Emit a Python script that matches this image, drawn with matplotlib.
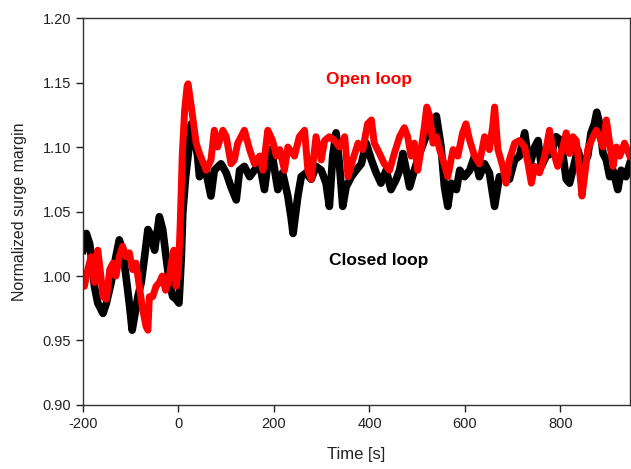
import matplotlib.pyplot as plt

# ---------------------------------------------------------------------------
# Data (time in s, normalized surge margin)
# ---------------------------------------------------------------------------
closed_t = [
    -200, -193, -186, -181, -176, -169, -158, -151, -141, -131, -124, -117,
    -110, -103, -97, -92, -85, -78, -71, -64, -57, -50, -40, -33, -26, -19,
    -12, -5, 1, 6, 9, 15, 20, 27, 33, 40, 44, 51, 58, 68, 75, 89, 100, 110,
    121, 128, 138, 149, 159, 170, 180, 191, 198, 208, 218, 229, 236, 240,
    250, 257, 267, 278, 288, 299, 309, 316, 323, 330, 337, 344, 351, 362,
    372, 383, 393, 404, 414, 424, 435, 445, 456, 463, 470, 477, 484, 494,
    505, 515, 526, 533, 540, 550, 557, 564, 571, 582, 589, 599, 610, 620,
    630, 641, 651, 662, 672, 683, 693, 704, 714, 725, 735, 746, 753, 760,
    770, 781, 791, 801, 812, 819, 829, 836, 847, 857, 864, 871, 876, 882,
    889, 896, 903, 910, 920, 927, 937, 945,
]
closed_y = [
    1.020, 1.033, 1.025, 1.010, 0.992, 0.979, 0.971, 0.979, 0.995, 1.015,
    1.028, 1.020, 1.000, 0.979, 0.958, 0.969, 0.984, 0.995, 1.015, 1.036,
    1.031, 1.020, 1.046, 1.036, 1.015, 0.995, 0.984, 0.982, 0.979, 1.015,
    1.049, 1.077, 1.093, 1.118, 1.108, 1.093, 1.077, 1.082, 1.080, 1.062,
    1.082, 1.087, 1.080, 1.069, 1.059, 1.082, 1.085, 1.077, 1.082, 1.087,
    1.067, 1.098, 1.090, 1.067, 1.080, 1.062, 1.045, 1.033, 1.062, 1.077,
    1.080, 1.075, 1.085, 1.082, 1.072, 1.054, 1.093, 1.111, 1.087, 1.054,
    1.069, 1.077, 1.082, 1.087, 1.103, 1.090, 1.080, 1.072, 1.082, 1.067,
    1.075, 1.082, 1.095, 1.082, 1.069, 1.082, 1.095, 1.105, 1.116, 1.118,
    1.124, 1.100, 1.069, 1.054, 1.072, 1.067, 1.082, 1.077, 1.082, 1.093,
    1.077, 1.087, 1.080, 1.054, 1.077, 1.077, 1.075, 1.090, 1.093, 1.111,
    1.085, 1.100, 1.105, 1.085, 1.093, 1.095, 1.108, 1.105, 1.075, 1.072,
    1.087, 1.098, 1.085, 1.093, 1.111, 1.118, 1.127, 1.118, 1.095, 1.090,
    1.077, 1.082, 1.067, 1.082, 1.077, 1.087,
]

open_t = [
    -200, -197, -190, -183, -176, -169, -164, -158, -151, -144, -137, -131,
    -124, -117, -110, -103, -96, -89, -82, -75, -68, -64, -61, -54, -47, -40,
    -34, -27, -20, -15, -10, -5, 0, 4, 8, 13, 18, 20, 27, 37, 44, 58, 68, 75,
    82, 93, 100, 110, 117, 124, 138, 149, 159, 170, 177, 187, 197, 205, 212,
    222, 229, 239, 243, 253, 264, 271, 278, 288, 299, 306, 316, 327, 337,
    348, 355, 365, 376, 386, 396, 404, 410, 421, 431, 442, 452, 463, 473,
    480, 487, 494, 501, 508, 515, 520, 526, 533, 540, 547, 554, 564, 575,
    585, 595, 602, 610, 620, 630, 641, 651, 658, 662, 669, 679, 686, 693,
    704, 714, 725, 732, 739, 746, 756, 767, 777, 784, 794, 805, 812, 819,
    826, 833, 840, 845, 852, 857, 868, 875, 882, 889, 896, 903, 910, 917,
    924, 934, 945,
]
open_y = [
    1.000, 0.992, 1.005, 1.015, 0.995, 1.020, 1.005, 0.984, 0.982, 1.005,
    1.010, 1.000, 1.015, 1.023, 1.015, 1.018, 1.005, 1.010, 0.992, 0.974,
    0.961, 0.958, 0.984, 0.984, 0.992, 0.995, 1.000, 0.989, 0.997, 1.010,
    1.020, 0.992, 1.005, 1.044, 1.095, 1.129, 1.147, 1.149, 1.131, 1.103,
    1.095, 1.082, 1.090, 1.113, 1.100, 1.113, 1.108, 1.087, 1.090, 1.103,
    1.113, 1.098, 1.087, 1.093, 1.082, 1.113, 1.105, 1.093, 1.098, 1.082,
    1.100, 1.095, 1.093, 1.108, 1.113, 1.082, 1.075, 1.108, 1.090, 1.105,
    1.108, 1.105, 1.100, 1.108, 1.077, 1.090, 1.103, 1.098, 1.118, 1.121,
    1.103, 1.095, 1.087, 1.082, 1.095, 1.108, 1.115, 1.108, 1.093, 1.103,
    1.082, 1.098, 1.116, 1.131, 1.124, 1.103, 1.108, 1.098, 1.090, 1.077,
    1.098, 1.093, 1.111, 1.118, 1.105, 1.093, 1.087, 1.108, 1.098, 1.116,
    1.131, 1.098, 1.085, 1.072, 1.090, 1.103, 1.105, 1.100, 1.087, 1.072,
    1.085, 1.080, 1.093, 1.113, 1.098, 1.085, 1.100, 1.111, 1.095, 1.108,
    1.105, 1.082, 1.062, 1.082, 1.098, 1.108, 1.113, 1.108, 1.100, 1.121,
    1.103, 1.085, 1.100, 1.093, 1.103, 1.093,
]

x_ticks = [-200, 0, 200, 400, 600, 800]
y_ticks = [0.90, 0.95, 1.00, 1.05, 1.10, 1.15, 1.20]

plt.rcParams["font.family"] = ["Liberation Sans", "DejaVu Sans"]
plt.rcParams["axes.unicode_minus"] = False

fig = plt.figure(figsize=(6.31, 4.69), dpi=100)
ax = fig.add_axes([0.1315, 0.1365, 0.8665, 0.825])

ax.plot(closed_t, closed_y, color="black", lw=5.5, solid_joinstyle="round")
ax.plot(open_t, open_y, color="#ff0000", lw=5.0, solid_joinstyle="round")

ax.set_xlim(-200, 945)
ax.set_ylim(0.90, 1.20)
ax.set_xticks(x_ticks)
ax.set_yticks(y_ticks)
ax.set_yticklabels([f"{v:.2f}" for v in y_ticks])
ax.tick_params(direction="out", length=5, width=1, labelsize=10.5,
               colors="#222222")
for side in ["left", "bottom", "top", "right"]:
    ax.spines[side].set_color("#333333")
    ax.spines[side].set_linewidth(1.0)

ax.set_xlabel("Time [s]", fontsize=12, color="#222222", labelpad=12)
ax.set_ylabel("Normalized surge margin", fontsize=11.5, color="#222222",
              labelpad=11)

ax.text(400, 1.152, "Open loop", color="#ff0000", fontsize=12.5,
        fontweight="bold", ha="center", va="center")
ax.text(419, 1.012, "Closed loop", color="black", fontsize=12.5,
        fontweight="bold", ha="center", va="center")

plt.savefig("out.png", dpi=100)
